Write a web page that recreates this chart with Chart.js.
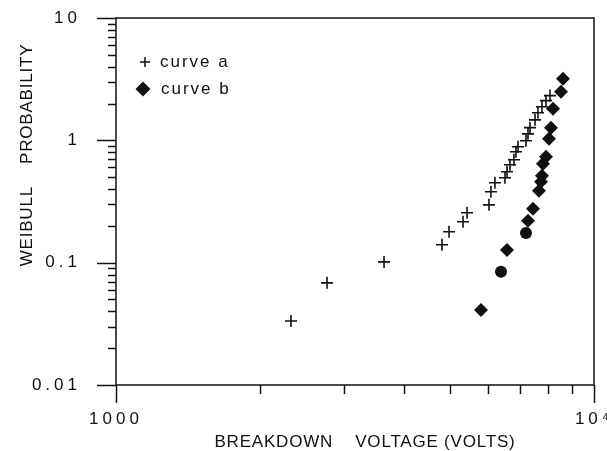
<!DOCTYPE html>
<html><head><meta charset="utf-8">
<script src="https://cdn.jsdelivr.net/npm/chart.js@4/dist/chart.umd.min.js"></script>
<style>html,body{margin:0;padding:0;background:#fff;}#wrap{width:607px;height:451px;}</style>
</head><body><div id="wrap"><canvas id="c" width="607" height="451"></canvas></div>
<script>
// ---- data ----
const curveAVoltage = [2323, 2764, 3637, 4809, 4974, 5321, 5425, 6029, 6087, 6205, 6512, 6577, 6672, 6801, 6867, 6934, 7206, 7276, 7347, 7526, 7634, 7783, 7935, 8091];
const curveAProb    = [0.0334, 0.0684, 0.1015, 0.140, 0.179, 0.216, 0.256, 0.297, 0.380, 0.450, 0.494, 0.553, 0.631, 0.694, 0.807, 0.886, 0.992, 1.13, 1.27, 1.47, 1.68, 1.88, 2.11, 2.32];
const curveBVoltage = [5802, 6577, 7276, 7454, 7671, 7746, 7783, 7820, 7935, 8051, 8128, 8207, 8531, 8614];
const curveBProb    = [0.0411, 0.127, 0.220, 0.276, 0.387, 0.459, 0.513, 0.644, 0.734, 1.03, 1.27, 1.81, 2.50, 3.19];
const curveBRoundVoltage = [6389, 7206];
const curveBRoundProb    = [0.0841, 0.175];
const xTickValues = [1000, 10000];
const xTickText   = ['1000', '10⁴'];
const yTickValues = [0.01, 0.1, 1, 10];
const yTickText   = ['0.01', '0.1', '1', '10'];
const seriesNames = ['curve a', 'curve b'];
const xTitle = 'BREAKDOWN    VOLTAGE (VOLTS)';
const yTitle = 'WEIBULL    PROBABILITY';

const FONT = '"Liberation Sans", Arial, sans-serif';
const INK = '#111';
const toPts = (xs, ys) => xs.map((x, i) => ({x: x, y: ys[i]}));
const isDecade = v => Math.abs(Math.log10(v) - Math.round(Math.log10(v))) < 1e-6;
const lookup = (vals, txt, v) => {
  for (let i = 0; i < vals.length; i++) if (Math.abs(Math.log10(v) - Math.log10(vals[i])) < 1e-6) return txt[i];
  return '';
};
// 1..9 multiples of each decade between min and max (log tick positions)
const logTicks = (min, max) => {
  const out = [];
  for (let e = Math.floor(Math.log10(min)); e <= Math.ceil(Math.log10(max)); e++) {
    for (let m = 1; m <= 9; m++) {
      const v = +(m * Math.pow(10, e)).toPrecision(6);
      if (v >= min * 0.999999 && v <= max * 1.000001) out.push({value: v, major: m === 1});
    }
  }
  return out;
};
const fixPad = s => { s.paddingLeft = 0; s.paddingRight = 0; s.paddingTop = 0; s.paddingBottom = 0; };

const framePlugin = {
  id: 'frame',
  beforeDraw(chart) { chart.ctx.letterSpacing = '4px'; },
  afterDraw(chart) {
    const c = chart.ctx, a = chart.chartArea, xs = chart.scales.x, ys = chart.scales.y;
    c.save();
    c.letterSpacing = '0px';
    c.strokeStyle = INK; c.lineWidth = 1.5;
    c.strokeRect(a.left, a.top, a.right - a.left, a.bottom - a.top);
    ys.ticks.forEach(t => {
      const p = Math.round(ys.getPixelForValue(t.value)) + 0.5;
      const len = isDecade(t.value) ? 19 : 8;
      c.beginPath(); c.moveTo(a.left - len, p); c.lineTo(a.left, p); c.stroke();
    });
    xs.ticks.forEach(t => {
      const p = Math.round(xs.getPixelForValue(t.value)) + 0.5;
      const len = isDecade(t.value) ? 18 : 9;
      c.beginPath(); c.moveTo(p, a.bottom); c.lineTo(p, a.bottom + len); c.stroke();
    });
    // axis titles
    c.fillStyle = INK;
    c.font = '17px ' + FONT;
    c.letterSpacing = '0.8px';
    c.textAlign = 'center'; c.textBaseline = 'middle';
    c.fillText(xTitle, 365, 442);
    c.save(); c.translate(27, 155); c.rotate(-Math.PI / 2); c.fillText(yTitle, 0, 0); c.restore();
    // legend
    c.letterSpacing = '2px';
    c.textAlign = 'left';
    c.lineWidth = 1.5;
    c.beginPath(); c.moveTo(140, 62); c.lineTo(150, 62); c.moveTo(145, 57); c.lineTo(145, 67); c.stroke();
    c.fillText(seriesNames[0], 160, 62);
    c.beginPath(); c.moveTo(135.5, 89); c.lineTo(143, 81.5); c.lineTo(150.5, 89); c.lineTo(143, 96.5); c.closePath(); c.fill();
    c.fillText(seriesNames[1], 161, 89);
    c.restore();
  }
};

new Chart(document.getElementById('c'), {
  type: 'scatter',
  data: {
    datasets: [
      {label: seriesNames[0], data: toPts(curveAVoltage, curveAProb), pointStyle: 'cross',
       pointRadius: 6, pointHoverRadius: 6, pointBorderWidth: 1.6, borderColor: INK, backgroundColor: INK},
      {label: seriesNames[1], data: toPts(curveBVoltage, curveBProb), pointStyle: 'rectRot',
       pointRadius: 7, pointHoverRadius: 7, pointBorderWidth: 0, borderColor: INK, backgroundColor: INK},
      {label: seriesNames[1] + ' ', data: toPts(curveBRoundVoltage, curveBRoundProb), pointStyle: 'circle',
       pointRadius: 6, pointHoverRadius: 6, pointBorderWidth: 0, borderColor: INK, backgroundColor: INK}
    ]
  },
  options: {
    responsive: false, animation: false, devicePixelRatio: 1,
    layout: {padding: {top: 18, right: 13, left: 0, bottom: 0}},
    plugins: {legend: {display: false}, tooltip: {enabled: false}},
    scales: {
      x: {type: 'logarithmic', min: 1000, max: 10000, position: 'bottom',
          grid: {display: false}, border: {display: false},
          afterBuildTicks: s => { s.ticks = logTicks(s.min, s.max); },
          ticks: {autoSkip: false, maxRotation: 0, minRotation: 0, padding: 16, color: INK,
                  font: {family: FONT, size: 17},
                  callback: v => lookup(xTickValues, xTickText, v)},
          afterFit: s => { s.height = 66; fixPad(s); }},
      y: {type: 'logarithmic', min: 0.01, max: 10, position: 'left',
          grid: {display: false}, border: {display: false},
          afterBuildTicks: s => { s.ticks = logTicks(s.min, s.max); },
          ticks: {autoSkip: false, padding: 27, color: INK,
                  font: {family: FONT, size: 17},
                  callback: v => lookup(yTickValues, yTickText, v)},
          afterFit: s => { s.width = 116; fixPad(s); }}
    }
  },
  plugins: [framePlugin]
});
</script>
</body></html>
